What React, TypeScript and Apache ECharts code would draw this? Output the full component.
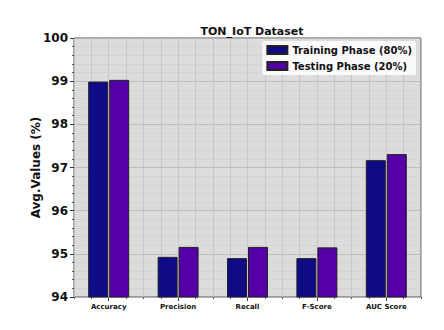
import React, { useEffect, useRef } from "react";
import * as echarts from "echarts";

const categories = ["Accuracy", "Precision", "Recall", "F-Score", "AUC Score"];
const trainingValues = [98.99, 94.93, 94.9, 94.9, 97.17];
const testingValues = [99.03, 95.16, 95.16, 95.15, 97.31];
const seriesNames = ["Training Phase (80%)", "Testing Phase (20%)"];

export default function App() {
  const ref = useRef<HTMLDivElement>(null);
  useEffect(() => {
    const chart = echarts.init(ref.current!, null, { renderer: "svg" });
    const font = "DejaVu Sans";
    chart.setOption({
      animation: false,
      backgroundColor: "#ffffff",
      title: {
        text: "TON_IoT Dataset",
        left: 247,
        top: 21,
        textAlign: "center",
        textStyle: { fontFamily: font, fontSize: 11, fontWeight: "bold", color: "#111" },
      },
      legend: {
        orient: "vertical",
        right: 28,
        top: 41,
        icon: "rect",
        itemWidth: 20,
        itemHeight: 8,
        itemGap: 6,
        padding: [4, 4, 4, 4],
        backgroundColor: "rgba(255,255,255,0.85)",
        borderRadius: 2,
        textStyle: { fontFamily: font, fontSize: 10, fontWeight: "bold", color: "#111" },
        data: seriesNames,
      },
      grid: {
        left: 74,
        right: 23,
        top: 38,
        bottom: 33,
        show: true,
        backgroundColor: "#dcdcdc",
        borderColor: "#555",
        borderWidth: 1,
      },
      xAxis: [
        {
          type: "category",
          data: categories,
          axisLine: { show: false },
          axisTick: { show: true, alignWithLabel: true, length: 4, lineStyle: { color: "#333" } },
          axisLabel: { fontFamily: font, fontSize: 7, fontWeight: "bold", color: "#111", margin: 6 },
          splitLine: { show: false },
        },
        {
          type: "value",
          position: "bottom",
          min: 0,
          max: 5,
          interval: 0.25,
          axisLine: { show: false },
          axisTick: { show: true, length: 2, lineStyle: { color: "#555" } },
          axisLabel: { show: false },
          splitLine: { show: true, lineStyle: { color: "#c2c2c2", width: 0.8 } },
        },
      ],
      yAxis: {
        type: "value",
        min: 94,
        max: 100,
        interval: 1,
        name: "Avg.Values (%)",
        nameLocation: "middle",
        nameGap: 32,
        nameMoveOverlap: false,
        nameTextStyle: { fontFamily: font, fontSize: 12, fontWeight: "bold", color: "#111" },
        axisLine: { show: false },
        axisTick: { show: true, length: 4, lineStyle: { color: "#333" } },
        minorTick: { show: true, splitNumber: 5, length: 2, lineStyle: { color: "#555" } },
        axisLabel: { fontFamily: font, fontSize: 12, fontWeight: "bold", color: "#111", margin: 6 },
        splitLine: { show: true, lineStyle: { color: "#b5b5b5", width: 0.8 } },
        minorSplitLine: { show: true, lineStyle: { color: "#c4c4c4", width: 0.6, type: "dotted" } },
      },
      series: [
        {
          name: seriesNames[0],
          type: "bar",
          xAxisIndex: 0,
          data: trainingValues,
          barWidth: 20,
          barGap: "5%",
          itemStyle: { color: "#0f0a85", borderColor: "#222", borderWidth: 1 },
        },
        {
          name: seriesNames[1],
          type: "bar",
          xAxisIndex: 0,
          data: testingValues,
          barWidth: 20,
          barGap: "5%",
          itemStyle: { color: "#5500a6", borderColor: "#222", borderWidth: 1 },
        },
      ],
    });
    return () => chart.dispose();
  }, []);
  return <div ref={ref} style={{ width: 444, height: 330, position: "absolute", left: 0, top: 0 }} />;
}
